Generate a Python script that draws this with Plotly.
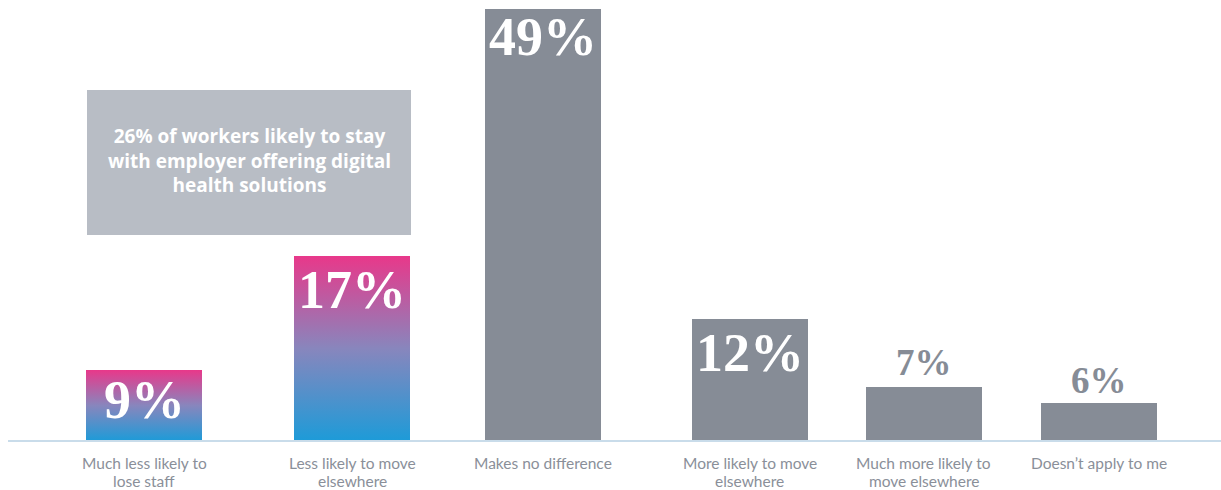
import plotly.graph_objects as go

# ---- data ----
categories = [
    "Much less likely to<br>lose staff",
    "Less likely to move<br>elsewhere",
    "Makes no difference",
    "More likely to move<br>elsewhere",
    "Much more likely to<br>move elsewhere",
    "Doesn\u2019t apply to me",
]
shares = [9, 17, 49, 12, 7, 6]                       # printed percentages
bar_heights = [8.05, 20.98, 49.0, 13.84, 6.13, 4.31]  # drawn heights
label_texts = [f"{v}%" for v in shares]
callout_text = "26% of workers likely to stay<br>with employer offering digital<br>health solutions"

# ---- layout / style constants ----
W, H = 1221, 490
x_centers = [144, 352, 542.5, 749.5, 923.5, 1098.5]
bar_width = 116
gradient_bars = [True, True, False, False, False, False]
label_inside = [True, True, True, True, False, False]
label_shift = [-30, -34, -28, -34, 24, 23]
label_size = [54, 54, 54, 54, 37, 37]
cat_line_px = [463, 481]
baseline_px = 441
k = 432 / 49.0  # px per unit
ymin = -(H - baseline_px) / k
ymax = baseline_px / k
GRAY = "#868c96"
grad_scale = [[0, "#1d9bd8"], [0.5, "#8886bd"], [1, "#e8388a"]]

fig = go.Figure()

for i, (xc, h) in enumerate(zip(x_centers, bar_heights)):
    x0, x1 = xc - bar_width / 2, xc + bar_width / 2
    if gradient_bars[i]:
        fig.add_trace(go.Scatter(
            x=[x0, x1, x1, x0, x0], y=[0, 0, h, h, 0],
            mode="lines", line=dict(width=0), fill="toself",
            fillgradient=dict(type="vertical", colorscale=grad_scale),
            hoverinfo="skip", showlegend=False,
        ))
    else:
        fig.add_trace(go.Bar(
            x=[xc], y=[h], width=[bar_width], marker=dict(color=GRAY, line=dict(width=0)),
            hoverinfo="skip", showlegend=False,
        ))
    fig.add_annotation(
        x=xc, y=h, xref="x", yref="y", text=f"<b>{label_texts[i]}</b>",
        showarrow=False, yanchor="middle", yshift=label_shift[i],
        font=dict(family="Liberation Serif", size=label_size[i],
                  color="white" if label_inside[i] else GRAY),
    )
    for j, line in enumerate(categories[i].split("<br>")):
        fig.add_annotation(
            x=xc, y=1 - cat_line_px[j] / H, xref="x", yref="paper", text=line,
            showarrow=False, yanchor="middle",
            font=dict(family="Lato", size=15.5, color="#8a8f99"),
        )

# baseline
fig.add_shape(type="line", xref="x", yref="y", x0=8, x1=W, y0=0, y1=0,
              line=dict(color="#c9dcea", width=2))

# callout box
fig.add_shape(type="rect", xref="x", yref="paper", x0=87, x1=411,
              y0=1 - 235 / H, y1=1 - 90 / H, fillcolor="#b8bdc5", line=dict(width=0),
              layer="below")
fig.add_annotation(x=249, y=1 - 161 / H, xref="x", yref="paper", yanchor="middle",
                   text=f"<b>{callout_text}</b>", showarrow=False,
                   font=dict(family="Open Sans", size=19, color="white"),
                   align="center")

fig.update_layout(
    width=W, height=H,
    margin=dict(l=0, r=0, t=0, b=0),
    plot_bgcolor="white", paper_bgcolor="white",
    xaxis=dict(range=[0, W], visible=False, fixedrange=True),
    yaxis=dict(range=[ymin, ymax], visible=False, fixedrange=True),
    bargap=0,
)

fig.write_html("out.html", config={"displayModeBar": False})
